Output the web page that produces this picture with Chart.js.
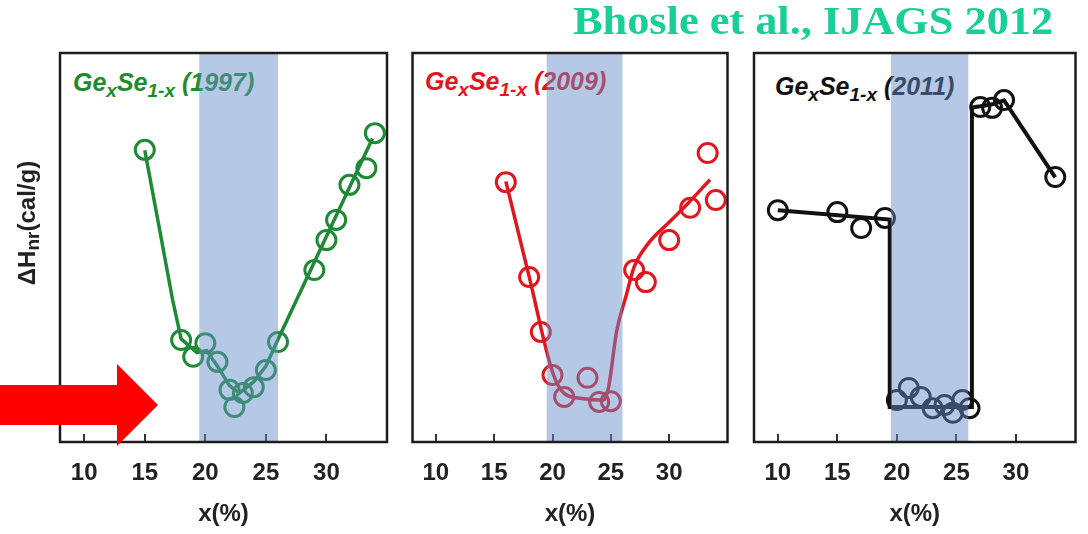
<!DOCTYPE html>
<html lang="en">
<head>
  <meta charset="UTF-8">
  <title>GexSe1-x non-reversing enthalpy</title>
  <script src="https://cdn.jsdelivr.net/npm/chart.js"></script>
  <style>
    body {
      margin: 0;
      background: #fff;
      font-family: Arial, "Liberation Sans", sans-serif;
    }
    #wrap {
      position: relative;
      width: 1088px;
      height: 534px;
      overflow: hidden;
    }
    canvas {
      position: absolute;
      top: 0;
      z-index: 2;
    }
    .ptitle {
      position: absolute;
      z-index: 1;
      font: italic bold 25px Arial, "Liberation Sans", sans-serif;
      line-height: 25px;
      white-space: nowrap;
    }
    .ptitle sub {
      font-size: 19px;
      vertical-align: baseline;
      position: relative;
      top: 6px;
    }
    #ylabel {
      position: absolute;
      z-index: 3;
      left: 28px;
      top: 223px;
      transform: translate(-50%, -50%) rotate(-90deg);
      font: bold 24px Arial, "Liberation Sans", sans-serif;
      color: #222;
      white-space: nowrap;
      line-height: 24px;
    }
    #ylabel sub {
      font-size: 19px;
      vertical-align: baseline;
      position: relative;
      top: 4px;
    }
    #header {
      position: absolute;
      z-index: 3;
      left: 573px;
      top: 1px;
      font: bold 40px "Liberation Serif", "Times New Roman", serif;
      line-height: 40px;
      color: #17cf97;
      white-space: nowrap;
      transform: scaleX(1.108);
      transform-origin: left top;
    }
    #arrow {
      position: absolute;
      z-index: 3;
      left: 0;
      top: 0;
    }
  </style>
</head>
<body>
<div id="wrap">
  <div id="header">Bhosle et al., IJAGS 2012</div>
  <div id="ylabel">&Delta;H<sub>nr</sub>(cal/g)</div>

  <div class="ptitle" style="left:73px; top:70px; color:#238a2c;">Ge<sub>x</sub>Se<sub>1-x</sub> (1997)</div>
  <div class="ptitle" style="left:425px; top:69px; color:#e3161d;">Ge<sub>x</sub>Se<sub>1-x</sub> (2009)</div>
  <div class="ptitle" style="left:775px; top:74px; color:#111;">Ge<sub>x</sub>Se<sub>1-x</sub> (2011)</div>

  <canvas id="c1997" width="400" height="534" style="left:0px"></canvas>
  <canvas id="c2009" width="340" height="534" style="left:400px"></canvas>
  <canvas id="c2011" width="348" height="534" style="left:740px"></canvas>

  <svg id="arrow" width="170" height="534">
    <polygon points="0,385 117,385 117,364 158,405 117,446 117,425 0,425" fill="#ff0000"/>
  </svg>
</div>

<script>
  // axis
  const xTicks = [10, 15, 20, 25, 30];
  const bandRange = [19.5, 26];

  // 1997 data
  const x1997 = [15, 18, 19, 20, 21, 22, 22.4, 23.1, 24, 25, 26, 29, 30, 30.8, 31.9, 33.3, 34];
  const y1997 = [75.1, 26.2, 21.9, 25.4, 20.6, 13.4, 9.0, 12.6, 14.1, 18.5, 25.7, 44.2, 51.9, 57.1, 66.1, 70.4, 79.4];
  const fitX1997 = [15, 16.2, 17.3, 18, 19.3, 20.1, 21, 22, 22.8, 24, 25, 25.9, 33.8];
  const fitY1997 = [75, 55, 36.5, 26.5, 23, 23.5, 19.5, 14.5, 12.5, 15.5, 19.5, 25.7, 78];

  // 2009 data
  const x2009 = [16, 18, 19, 20, 21, 23, 24, 25, 27, 28, 30, 31.8, 33.3, 34];
  const y2009 = [66.8, 42.4, 28.3, 17.2, 11.6, 16.5, 10.3, 10.5, 44.2, 41.1, 51.9, 60.2, 74.3, 62.2];
  const fitX2009 = [16, 18, 20, 21, 22.5, 24.4, 24.8, 25.5, 26.3, 27, 28.2, 30, 31.5, 33.5];
  const fitY2009 = [67, 42.5, 18, 12.5, 11.2, 10.8, 14, 28.5, 37.5, 45, 51, 56.5, 61, 67.4];

  // 2011 data
  const x2011 = [10, 15, 17, 19, 20, 21, 22, 23, 24, 24.7, 25.5, 26.1, 27, 28, 29, 33.3];
  const y2011 = [59.6, 59.1, 55.0, 57.6, 10.8, 13.9, 11.6, 8.7, 9.5, 7.5, 10.8, 8.7, 86.1, 85.9, 87.9, 68.1];
  const fitX2011 = [10, 19.4, 19.4, 26.3, 26.3, 27, 28, 29, 33.3];
  const fitY2011 = [59.6, 57.2, 9.0, 9.0, 86, 86.3, 86.8, 87.8, 68];

  function zip(xs, ys) {
    return xs.map((v, i) => ({ x: v, y: ys[i] }));
  }

  // inward tick marks, shaded band, frame
  const bandPlugin = {
    id: 'band',
    beforeDatasetsDraw(chart) {
      const ctx = chart.ctx;
      const a = chart.chartArea;
      const sx = chart.scales.x;
      ctx.save();
      ctx.strokeStyle = '#333';
      ctx.lineWidth = 2;
      sx.ticks.forEach(t => {
        const px = Math.round(sx.getPixelForValue(t.value));
        ctx.beginPath();
        ctx.moveTo(px, a.bottom);
        ctx.lineTo(px, a.bottom - 8);
        ctx.stroke();
      });
      ctx.restore();
    },
    afterDatasetsDraw(chart) {
      const ctx = chart.ctx;
      const a = chart.chartArea;
      const sx = chart.scales.x;
      const x0 = sx.getPixelForValue(bandRange[0]);
      const x1 = sx.getPixelForValue(bandRange[1]);
      ctx.save();
      ctx.fillStyle = 'rgba(100,140,200,0.48)';
      ctx.fillRect(x0, a.top, x1 - x0, a.bottom - a.top);
      ctx.strokeStyle = '#1c1c1c';
      ctx.lineWidth = 2.5;
      ctx.strokeRect(a.left, a.top, a.right - a.left, a.bottom - a.top);
      ctx.restore();
    }
  };

  const tickFont = { family: 'Arial', size: 24, weight: 'bold' };

  function makePanel(id, p) {
    return new Chart(document.getElementById(id), {
      type: 'scatter',
      data: {
        datasets: [
          {
            data: zip(p.fitX, p.fitY),
            showLine: true,
            pointRadius: 0,
            borderColor: p.color,
            borderWidth: p.lineWidth,
            cubicInterpolationMode: p.smooth ? 'monotone' : 'default',
            tension: 0
          },
          {
            data: zip(p.x, p.y),
            showLine: false,
            pointRadius: 9.5,
            pointBorderWidth: 3,
            pointBorderColor: p.color,
            pointBackgroundColor: 'rgba(0,0,0,0)'
          }
        ]
      },
      options: {
        responsive: false,
        animation: false,
        devicePixelRatio: 1,
        layout: { padding: { left: p.padL, right: p.padR, top: 53 } },
        plugins: { legend: { display: false }, tooltip: { enabled: false } },
        scales: {
          x: {
            type: 'linear',
            min: 8,
            max: 35,
            afterBuildTicks: s => { s.ticks = xTicks.map(v => ({ value: v })); },
            afterFit: s => { s.height = 92; },
            grid: { display: false, drawTicks: false },
            border: { display: false },
            ticks: { padding: 17, color: '#222', font: tickFont },
            title: {
              display: true,
              text: 'x(%)',
              color: '#222',
              font: tickFont,
              padding: { top: 0, bottom: 5 }
            }
          },
          y: { display: false, min: 0, max: 100 }
        }
      },
      plugins: [bandPlugin]
    });
  }

  makePanel('c1997', { x: x1997, y: y1997, fitX: fitX1997, fitY: fitY1997, color: '#1f8a36', lineWidth: 3.5, smooth: false, padL: 60, padR: 13 });
  makePanel('c2009', { x: x2009, y: y2009, fitX: fitX2009, fitY: fitY2009, color: '#e3161d', lineWidth: 3.5, smooth: true, padL: 7, padR: 5 });
  makePanel('c2011', { x: x2011, y: y2011, fitX: fitX2011, fitY: fitY2011, color: '#111111', lineWidth: 4, smooth: false, padL: 14, padR: 6 });
</script>
</body>
</html>
